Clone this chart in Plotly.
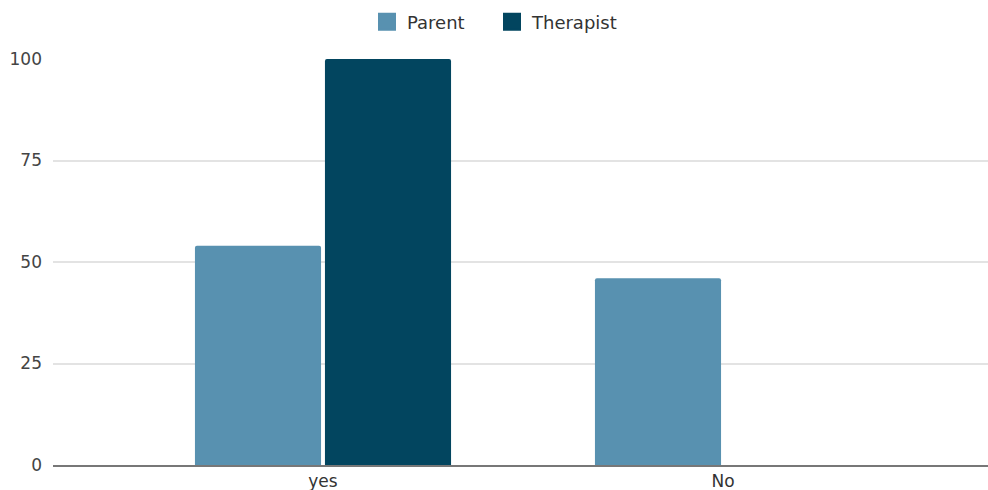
import plotly.graph_objects as go

categories = ["yes", "No"]
parent = [54, 46]
therapist = [100, 0]
y_ticks = [0, 25, 50, 75, 100]

series = [("Parent", parent, "#5891b0"), ("Therapist", therapist, "#02455f")]

fig = go.Figure()
for name, vals, color in series:
    fig.add_trace(go.Bar(name=name, x=categories, y=vals, showlegend=False,
                         marker=dict(color=color, cornerradius=2, line=dict(width=0))))
for name, vals, color in series:
    fig.add_trace(go.Scatter(name=name, x=[None], y=[None], mode="markers",
                             marker=dict(symbol="square", size=16, color=color,
                                         line=dict(color=color, width=2))))

fig.update_layout(
    width=988, height=490,
    margin=dict(l=53, r=0, t=59, b=25),
    barmode="group", bargap=0.35, bargroupgap=0.03,
    plot_bgcolor="white", paper_bgcolor="white",
    font=dict(family="DejaVu Sans, Arial, sans-serif", size=16, color="#444444"),
    legend=dict(orientation="h", x=0.4695, xanchor="center", yref="container",
                y=1 - 22 / 490, yanchor="middle", entrywidth=80,
                font=dict(size=18, color="#333333")),
    xaxis=dict(range=[-0.675, 1.6625], showgrid=False, showline=True,
               linecolor="#777777", linewidth=1.5, ticks="",
               tickfont=dict(size=17, color="#333333")),
    yaxis=dict(range=[0, 100], tickvals=y_ticks, showgrid=True, gridcolor="#e3e3e3",
               gridwidth=1.5, zeroline=False, ticks="", ticklabelstandoff=10,
               tickfont=dict(size=17, color="#444444")),
)
fig.write_html("out.html")
